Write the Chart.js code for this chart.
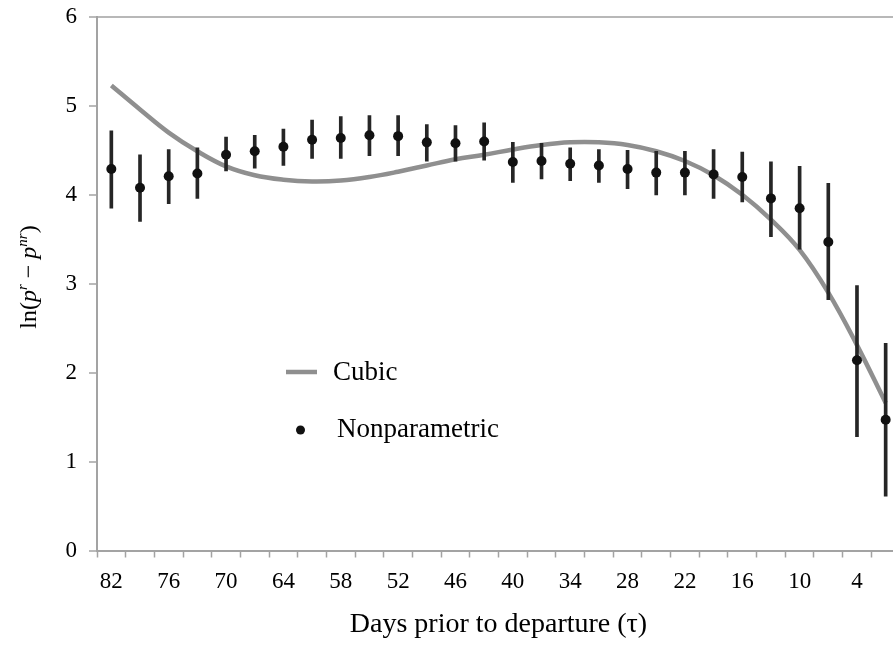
<!DOCTYPE html>
<html><head><meta charset="utf-8">
<script src="https://cdn.jsdelivr.net/npm/chart.js@4.4.1/dist/chart.umd.min.js"></script>
<style>
html,body{margin:0;padding:0;overflow:hidden;background:#fff;width:893px;height:667px;}
#wrap{position:absolute;left:0;top:0;width:905px;height:667px;}
</style></head><body>
<div id="wrap"><canvas id="c" width="905" height="667"></canvas></div>
<script>
// ---- data ----
const categories = [82,79,76,73,70,67,64,61,58,55,52,49,46,43,40,37,34,31,28,25,22,19,16,13,10,7,4,1];
const xTickLabels = ['82','76','70','64','58','52','46','40','34','28','22','16','10','4'];
const yTickValues = [0,1,2,3,4,5,6];
const cubicFit = [5.23,4.96,4.70,4.49,4.32,4.22,4.17,4.15,4.16,4.20,4.26,4.33,4.40,4.45,4.51,4.56,4.59,4.59,4.56,4.49,4.38,4.22,4.00,3.72,3.38,2.90,2.31,1.66];
const nonparametric = [4.29,4.08,4.21,4.24,4.45,4.49,4.54,4.62,4.64,4.67,4.66,4.59,4.58,4.60,4.37,4.38,4.35,4.33,4.29,4.25,4.25,4.23,4.20,3.96,3.85,3.47,2.14,1.47];
const ciLower = [3.85,3.70,3.90,3.96,4.27,4.30,4.33,4.41,4.41,4.44,4.44,4.38,4.38,4.39,4.14,4.18,4.16,4.14,4.07,4.00,4.00,3.96,3.92,3.53,3.39,2.82,1.28,0.61];
const ciUpper = [4.72,4.45,4.51,4.53,4.65,4.67,4.74,4.84,4.88,4.89,4.89,4.79,4.78,4.81,4.59,4.58,4.53,4.51,4.50,4.49,4.49,4.51,4.48,4.37,4.32,4.13,2.98,2.33];
const xTitle = 'Days prior to departure (τ)';
const yTitleParts = [
  {t:'ln(', it:false, sup:false},
  {t:'p', it:true, sup:false},
  {t:'r', it:true, sup:true},
  {t:' − ', it:false, sup:false},
  {t:'p', it:true, sup:false},
  {t:'nr', it:true, sup:true},
  {t:')', it:false, sup:false}
];
const seriesLabels = ['Cubic', 'Nonparametric'];

// ---- styling ----
const SERIF = "'Liberation Serif', 'Times New Roman', Times, serif";
const AXIS = '#a3a3a3';
const CURVE = '#8f8f8f';
const DOT = '#111111';

const annotPlugin = {
  id: 'annot',
  afterDraw(chart) {
    const ctx = chart.ctx;
    ctx.save();
    ctx.fillStyle = '#000';
    ctx.textBaseline = 'alphabetic';
    ctx.textAlign = 'left';
    const fontFor = p => (p.it ? 'italic ' : '') + (p.sup ? '15px ' : '24px ') + SERIF;
    let total = 0;
    yTitleParts.forEach(p => { ctx.font = fontFor(p); total += ctx.measureText(p.t).width; });
    ctx.translate(35.5, 277);
    ctx.rotate(-Math.PI / 2);
    let x = -total / 2;
    yTitleParts.forEach(p => {
      ctx.font = fontFor(p);
      ctx.fillText(p.t, x, p.sup ? -9 : 0);
      x += ctx.measureText(p.t).width;
    });
    ctx.restore();

    ctx.save();
    ctx.strokeStyle = CURVE;
    ctx.lineWidth = 4.5;
    ctx.beginPath();
    ctx.moveTo(286, 372);
    ctx.lineTo(317, 372);
    ctx.stroke();
    ctx.fillStyle = '#000';
    ctx.font = '27px ' + SERIF;
    ctx.textBaseline = 'alphabetic';
    ctx.fillText(seriesLabels[0], 333, 380);
    ctx.fillStyle = DOT;
    ctx.beginPath();
    ctx.arc(300.5, 430, 4.5, 0, Math.PI * 2);
    ctx.fill();
    ctx.fillStyle = '#000';
    ctx.fillText(seriesLabels[1], 337, 437);
    ctx.restore();
  }
};

new Chart(document.getElementById('c'), {
  type: 'line',
  data: {
    labels: categories.map(String),
    datasets: [
      {
        type: 'line',
        label: seriesLabels[1],
        data: nonparametric,
        showLine: false,
        pointRadius: 5,
        pointBackgroundColor: DOT,
        pointBorderWidth: 0,
        order: 0
      },
      {
        type: 'bar',
        label: 'CI',
        data: categories.map((c, i) => [ciLower[i], ciUpper[i]]),
        backgroundColor: '#262626',
        borderWidth: 0,
        barThickness: 3,
        order: 1
      },
      {
        type: 'line',
        label: seriesLabels[0],
        data: cubicFit,
        borderColor: CURVE,
        borderWidth: 4.5,
        pointRadius: 0,
        tension: 0.4,
        fill: false,
        order: 2
      }
    ]
  },
  options: {
    responsive: false,
    animation: false,
    layout: { padding: { top: 17, left: 0, right: 4, bottom: 0 } },
    plugins: { legend: { display: false }, tooltip: { enabled: false } },
    scales: {
      x: {
        type: 'category',
        offset: true,
        grid: { offset: true, drawOnChartArea: false, drawTicks: true, tickLength: 7, tickColor: AXIS, tickWidth: 1.5 },
        border: { color: AXIS, width: 2 },
        ticks: {
          autoSkip: false, maxRotation: 0, minRotation: 0, padding: 11, color: '#000',
          font: { family: SERIF, size: 23 },
          callback(v) { const l = this.getLabelForValue(v); return xTickLabels.includes(l) ? l : ''; }
        },
        title: { display: true, text: xTitle, color: '#000', font: { family: SERIF, size: 28 }, padding: { top: 0, bottom: 26 } },
        afterFit(s) { s.height = 116.5; s.paddingLeft = 0; s.paddingRight = 0; }
      },
      y: {
        min: 0, max: 6,
        afterBuildTicks(s) { s.ticks = yTickValues.map(v => ({ value: v })); },
        grid: {
          drawOnChartArea: true,
          color: c => (c.tick && c.tick.value === 6) ? '#b8b8b8' : 'rgba(0,0,0,0)',
          lineWidth: 2, drawTicks: true, tickLength: 8, tickColor: AXIS, tickWidth: 1.5
        },
        border: { color: AXIS, width: 2 },
        ticks: { padding: 12, color: '#000', font: { family: SERIF, size: 23 } },
        afterFit(s) { s.width = 97; s.paddingTop = 0; s.paddingBottom = 0; }
      }
    }
  },
  plugins: [annotPlugin]
});
</script>
</body></html>
